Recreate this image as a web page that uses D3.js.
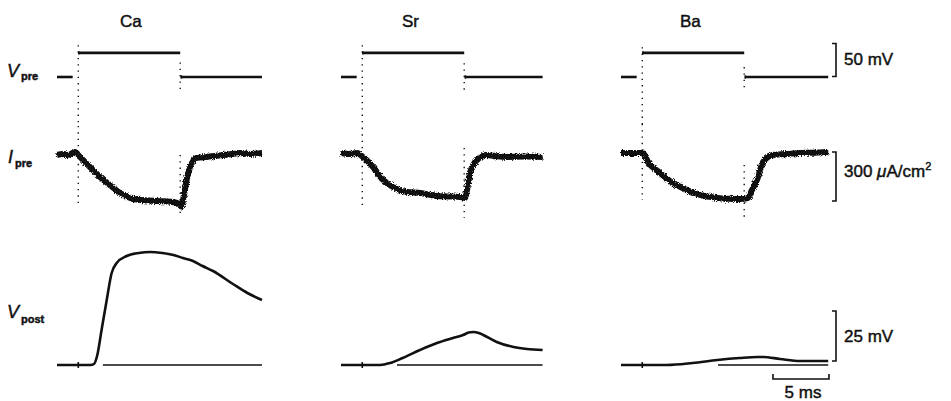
<!DOCTYPE html>
<html><head><meta charset="utf-8">
<script src="https://cdn.jsdelivr.net/npm/d3@7"></script>
<style>body{margin:0;background:#fff}svg{display:block}text{font-family:"Liberation Sans",Arial,sans-serif;fill:#111;stroke:#111;stroke-width:0.45px}</style>
</head><body><svg id="c" width="951" height="401"></svg>
<script>
// ---------------- data ----------------
const ions = ["Ca", "Sr", "Ba"];
const pulseOn = 1.9, pulseOff = 11.0;          // ms
const vpreStep = 36.5;                          // mV (relative to holding)
const sweepEnd = [18.3, 18.0, 18.5];            // ms
const holdEnd = 1.4;                            // ms, end of first holding segment

// presynaptic current (µA/cm², inward negative) [ms, value]
const ipreCa = [[0,-6],[0.5,0],[1.0,-6],[1.6,12],[2.05,-18],[2.95,-80],[3.84,-141],[4.73,-190],[5.63,-239],[6.52,-269],[7.41,-282],[8.2,-284],[8.93,-288],[9.7,-290],[10.36,-294],[10.9,-306],[11.1,-322],[11.25,-282],[11.61,-147],[12.05,-55],[12.5,-24],[13.39,-18],[14.1,-12],[14.82,-6],[15.6,0],[16.34,6],[17.2,0],[18.3,6]];
const ipreSr = [[0,6],[0.7,0],[1.43,6],[1.96,-18],[2.86,-80],[3.75,-159],[4.64,-202],[5.89,-233],[7.05,-239],[7.8,-248],[8.57,-257],[9.6,-260],[10.63,-263],[11.07,-269],[11.25,-220],[11.52,-116],[12.14,-37],[13.04,-6],[13.9,-14],[14.82,-18],[16.4,-16],[18.0,-18]];
const ipreBa = [[0,6],[1.0,6],[1.96,6],[2.41,-49],[3.48,-116],[4.64,-178],[5.89,-220],[7.05,-251],[8.57,-269],[9.6,-274],[10.63,-276],[11.3,-270],[11.7,-220],[12.14,-159],[12.68,-49],[13.57,-6],[14.8,0],[15.98,6],[17.2,8],[18.5,12]];

// transient artifacts at pulse edges [top, bottom] in row units
const vpreArtOn = [[48,-76],[48,-77],[45,-73]];
const vpreArtOff = [[22,-23],[21,-24],[15,-20]];
const ipreArtOn = [[171,-331],[159,-312],[184,-282]];
const ipreArtOff = [[-6,-373],[37,-392],[-67,-404]];

// postsynaptic potential (mV) [ms, value]
const vpostCa = [[0,0],[3.0,0],[3.3,0.5],[3.6,5],[3.98,17.5],[4.44,32.5],[4.88,46],[5.33,51],[6.22,54.5],[7.3,56],[8.3,56.5],[9.4,56],[10.4,55],[11.25,53.5],[12.14,52],[13.0,49.5],[13.93,47],[15.71,40.5],[17.0,36],[18.3,32.5]];
const vpostSr = [[0,0],[3.5,0],[4.4,1],[5.5,3.5],[7.05,7.5],[8.57,11],[10.0,13.5],[10.9,15],[11.4,16.2],[11.8,16.5],[12.3,16],[12.7,15],[13.9,11.5],[15.4,9],[16.6,8],[18.0,7.5]];
const vpostBa = [[0,0],[4.1,0],[6.4,1],[8.6,2.5],[10.6,3.5],[12.2,4],[12.7,4],[14.2,3],[16.0,2],[18.5,2]];
const vpostRefStart = [4.1, 5.0, 8.66];         // ms, start of the reference baseline sweep

const ipreData = [ipreCa, ipreSr, ipreBa];
const vpostData = [vpostCa, vpostSr, vpostBa];

// scale bars
const barVpre = [0.7, 50.7], barVpreLabel = "50 mV";
const barIpre = [12, -288], barIpreLabel = ["300 ", "μ", "A/cm", "2"];
const barVpost = [2, 27], barVpostLabel = "25 mV";
const barTime = [13.57, 18.57], barTimeLabel = "5 ms";

// ---------------- layout ----------------
const svg = d3.select("#c");
const panelLeft = [57, 341, 621], pxPerMs = 11.2;
const titleAt = [6.6, 6.2, 6.2];
const xs = panelLeft.map(l => d3.scaleLinear().domain([0, 1]).range([l, l + pxPerMs]));
const yVpre = d3.scaleLinear().domain([0, 50]).range([77, 44]);
const yIpre = d3.scaleLinear().domain([0, -300]).range([154, 203]);
const yVpost = d3.scaleLinear().domain([0, 25]).range([365, 315]);

const defs = svg.append("defs");
const f = defs.append("filter").attr("id","rough").attr("x","-5%").attr("y","-30%").attr("width","110%").attr("height","160%");
f.append("feTurbulence").attr("type","fractalNoise").attr("baseFrequency","0.9").attr("numOctaves",1).attr("seed",4).attr("result","n");
f.append("feDisplacementMap").attr("in","SourceGraphic").attr("in2","n").attr("scale",5).attr("xChannelSelector","R").attr("yChannelSelector","G");

const ink = "#111";

ions.forEach((ion, i) => {
  const x = xs[i];
  // title
  svg.append("text").attr("x", x(titleAt[i])).attr("y", 27).attr("text-anchor","middle")
    .attr("font-size", 17).text(ion);

  // Vpre
  const seg = d3.line().x(d => x(d[0])).y(d => yVpre(d[1]));
  svg.append("path").attr("d", seg([[0,0],[holdEnd,0]])).attr("stroke", ink).attr("stroke-width", 2.6).attr("fill","none");
  svg.append("path").attr("d", seg([[pulseOn+0.05,vpreStep],[pulseOff,vpreStep]])).attr("stroke", ink).attr("stroke-width", 2.6).attr("fill","none");
  svg.append("path").attr("d", seg([[pulseOff+0.05,0],[sweepEnd[i],0]])).attr("stroke", ink).attr("stroke-width", 2.6).attr("fill","none");
  svg.append("path").attr("d", seg([[pulseOn+0.05,vpreStep+2.5],[pulseOn+0.05,vpreStep-2.5]])).attr("stroke", ink).attr("stroke-width", 1.6);
  svg.append("path").attr("d", seg([[pulseOff+0.1,2.5],[pulseOff+0.1,-2.5]])).attr("stroke", ink).attr("stroke-width", 1.6);
  const dot = (xx, a, b, ys) => svg.append("line").attr("x1", xx).attr("x2", xx)
      .attr("y1", ys(a)).attr("y2", ys(b)).attr("stroke", ink).attr("stroke-width", 1.4)
      .attr("stroke-dasharray", "1.3,5");
  dot(x(pulseOn), vpreArtOn[i][0], vpreArtOn[i][1], yVpre);
  dot(x(pulseOff), vpreArtOff[i][0], vpreArtOff[i][1], yVpre);

  // Ipre
  const il = d3.line().x(d => x(d[0])).y(d => yIpre(d[1])).curve(d3.curveMonotoneX);
  svg.append("path").attr("d", il(ipreData[i])).attr("stroke", ink).attr("stroke-width", 6)
    .attr("fill","none").attr("stroke-linejoin","round").attr("filter","url(#rough)");
  svg.append("path").attr("d", il(ipreData[i])).attr("stroke", ink).attr("stroke-width", 3.4)
    .attr("fill","none").attr("stroke-linejoin","round");
  dot(x(pulseOn), ipreArtOn[i][0], ipreArtOn[i][1], yIpre);
  dot(x(pulseOff), ipreArtOff[i][0], ipreArtOff[i][1], yIpre);

  // Vpost
  const vl = d3.line().x(d => x(d[0])).y(d => yVpost(d[1])).curve(d3.curveMonotoneX);
  svg.append("path").attr("d", vl([[vpostRefStart[i],0],[sweepEnd[i],0]])).attr("stroke", ink)
    .attr("stroke-width", 1.4).attr("fill","none");
  svg.append("path").attr("d", vl(vpostData[i])).attr("stroke", ink).attr("stroke-width", 2.6)
    .attr("fill","none").attr("stroke-linejoin","round");
  svg.append("line").attr("x1", x(pulseOn)).attr("x2", x(pulseOn))
    .attr("y1", yVpost(1.5)).attr("y2", yVpost(-1.5)).attr("stroke", ink).attr("stroke-width", 1.6);
});

// row labels
function rowLabel(main, sub, x, y, subDy) {
  const t = svg.append("text").attr("x", x).attr("y", y);
  t.append("tspan").attr("font-size", 18).attr("font-style","italic").text(main);
  t.append("tspan").attr("font-size", 11).attr("font-weight","bold").attr("dx", 2).attr("dy", subDy).text(sub);
}
rowLabel("V", "pre", 7, 77, 3);
rowLabel("I", "pre", 8, 163, 4);
rowLabel("V", "post", 7, 318, 5);

// vertical scale bars
const bx = 836;
function vbar(range, ys, ty) {
  const a = ys(range[0]), b = ys(range[1]);
  svg.append("path").attr("d", `M${bx-4},${a}H${bx}V${b}H${bx-4}`).attr("stroke", ink)
    .attr("stroke-width", 1.6).attr("fill","none");
  return svg.append("text").attr("x", bx + 8).attr("y", ty).attr("font-size", 17);
}
vbar(barVpre, yVpre, 65).text(barVpreLabel);
const ti = vbar(barIpre, yIpre, 177);
ti.append("tspan").text(barIpreLabel[0]);
ti.append("tspan").attr("font-style","italic").text(barIpreLabel[1]);
ti.append("tspan").text(barIpreLabel[2]);
ti.append("tspan").attr("font-size", 11).attr("dy", -7).text(barIpreLabel[3]);
vbar(barVpost, yVpost, 342).text(barVpostLabel);

// time bar
const xb = xs[2];
svg.append("path").attr("d", `M${xb(barTime[0])},374V379H${xb(barTime[1])}V374`).attr("stroke", ink)
  .attr("stroke-width", 1.6).attr("fill","none");
svg.append("text").attr("x", (xb(barTime[0]) + xb(barTime[1])) / 2 + 2).attr("y", 398)
  .attr("text-anchor","middle").attr("font-size", 17).text(barTimeLabel);
</script></body></html>
